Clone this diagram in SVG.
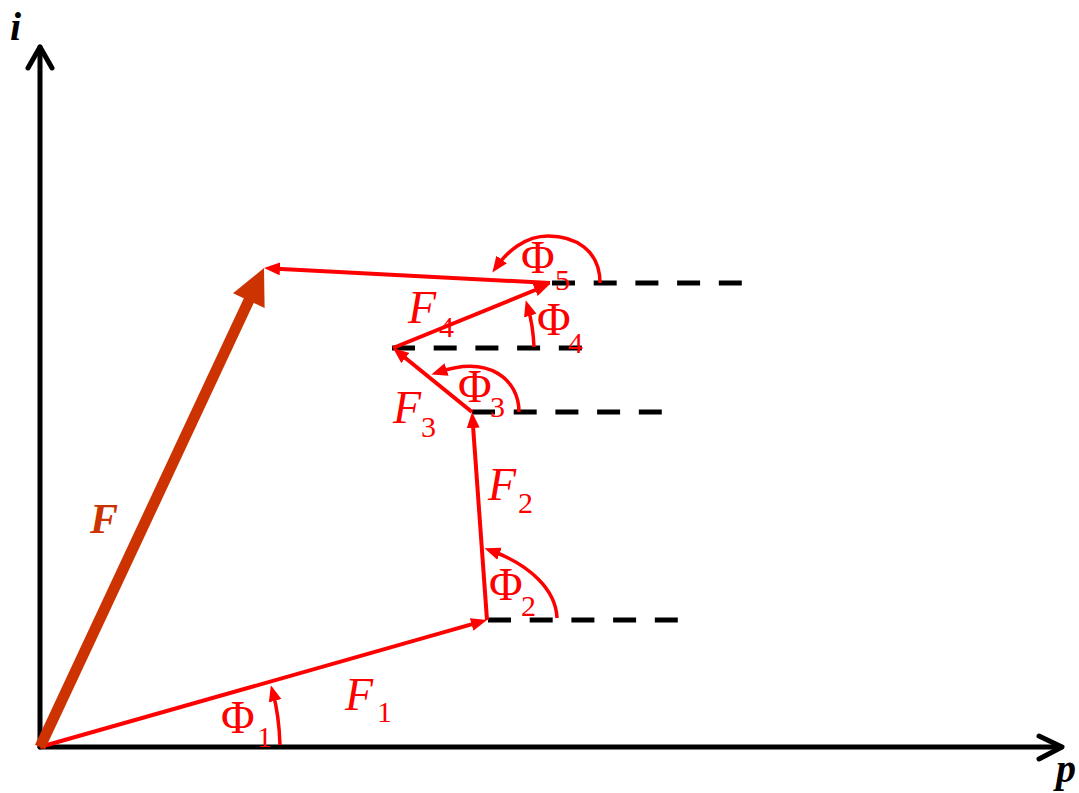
<svg xmlns="http://www.w3.org/2000/svg" width="1079" height="793" viewBox="0 0 1079 793">
<defs>
<style>
.ax{stroke:#000;stroke-width:5;fill:none;stroke-linecap:round;stroke-linejoin:round}
.dash{stroke:#000;stroke-width:5;stroke-dasharray:23 18.7;fill:none}
.vec{stroke:#FF0000;stroke-width:4;fill:none;marker-end:url(#ah)}
.arc{stroke:#FF0000;stroke-width:3.5;fill:none;marker-end:url(#ah)}
.lbl{font-family:"Liberation Serif","Times New Roman",serif;fill:#FF0000;font-size:46px}
.sub{font-family:"Liberation Serif","Times New Roman",serif;fill:#FF0000;font-size:30px}
.it{font-style:italic}
.axl{font-family:"Liberation Serif","Times New Roman",serif;font-style:italic;font-weight:bold;font-size:40px;fill:#000}
</style>
<marker id="ah" markerUnits="userSpaceOnUse" markerWidth="18" markerHeight="14" refX="8" refY="6.5" orient="auto" viewBox="0 0 18 14">
<path d="M0,0 L16,6.5 L0,13 z" fill="#FF0000"/>
</marker>
</defs>
<g id="axes">
<line class="ax" x1="40" y1="747" x2="40" y2="47"/>
<polyline class="ax" points="28,68 40,47 52,68"/>
<line class="ax" x1="40" y1="747" x2="1061" y2="747"/>
<polyline class="ax" points="1039,736 1062,747 1039,759"/>
<text class="axl" x="10" y="40">i</text>
<text class="axl" x="1056" y="782">p</text>
</g>
<g id="dashes">
<line class="dash" x1="488" y1="620" x2="680" y2="620"/>
<line class="dash" x1="472" y1="412" x2="664" y2="412"/>
<line class="dash" x1="392" y1="348" x2="584" y2="348"/>
<line class="dash" x1="552" y1="283" x2="744" y2="283"/>
</g>
<g id="connectors">
<line class="vec" x1="40" y1="747" x2="479.3" y2="622.2"/>
<line class="vec" x1="487" y1="620" x2="472.6" y2="420"/>
<line class="vec" x1="472" y1="412" x2="399.2" y2="353"/>
<line class="vec" x1="393" y1="348" x2="542.6" y2="287"/>
<line class="vec" x1="550" y1="283" x2="272" y2="268.4"/>
</g>
<g id="resultant">
<line x1="40" y1="747" x2="250" y2="298" stroke="#CC3300" stroke-width="11"/>
<polygon points="264,268 233,293.2 264.6,308" fill="#CC3300"/>
<text x="90" y="533" font-family="Liberation Serif, Times New Roman, serif" font-style="italic" font-weight="bold" font-size="42" fill="#CC3300">F</text>
</g>
<g id="angles">
<path class="arc" d="M280,745 Q279,715 273,693"/>
<path class="arc" d="M557,618 C556,590 530,565 492,551"/>
<path class="arc" d="M519,412 C519,380 490,355 439,372"/>
<path class="arc" d="M534,347 Q533,325 528,308"/>
<path class="arc" d="M600,283 C600,250 575,236 548,236 C525,236 507,252 497,266"/>
</g>
<g id="labels">
<text class="lbl" x="221" y="733">Φ</text><text class="sub" x="257" y="747">1</text>
<text class="lbl it" x="345" y="710">F</text><text class="sub" x="377" y="722">1</text>
<text class="lbl it" x="488" y="500">F</text><text class="sub" x="518" y="513">2</text>
<text class="lbl" x="489" y="600">Φ</text><text class="sub" x="521" y="616">2</text>
<text class="lbl it" x="393" y="423">F</text><text class="sub" x="421" y="437">3</text>
<text class="lbl" x="458" y="402">Φ</text><text class="sub" x="490" y="417">3</text>
<text class="lbl it" x="408" y="323">F</text><text class="sub" x="439" y="337">4</text>
<text class="lbl" x="537" y="335">Φ</text><text class="sub" x="568" y="353">4</text>
<text class="lbl" x="521" y="273">Φ</text><text class="sub" x="555" y="290">5</text>
</g>
</svg>
